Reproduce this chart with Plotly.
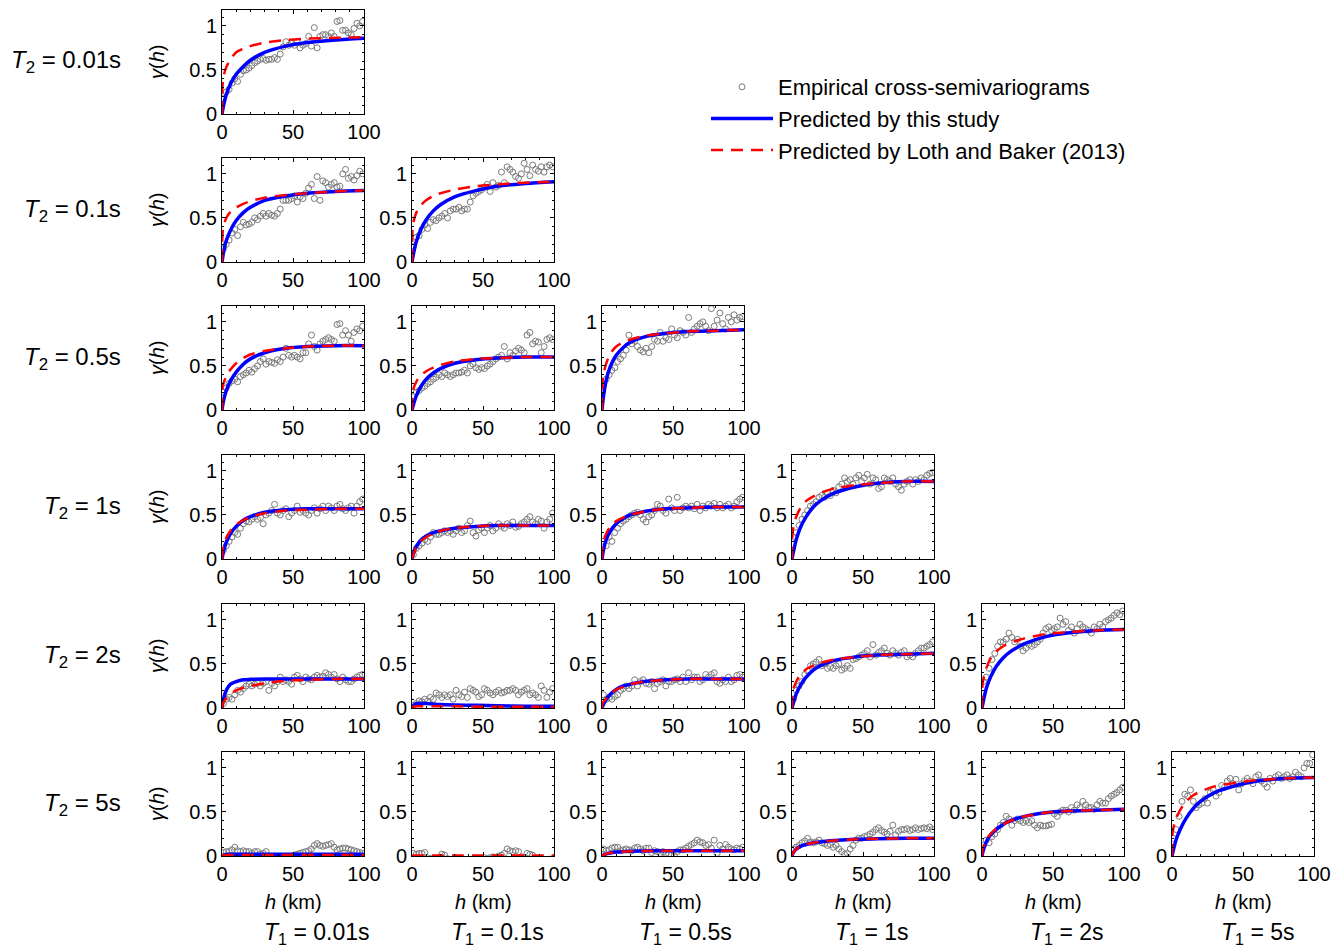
import plotly.graph_objects as go

# ---------------- data ----------------
T1_labels = ["0.01s", "0.1s", "0.5s", "1s", "2s", "5s"]
T2_labels = ["0.01s", "0.1s", "0.5s", "1s", "2s", "5s"]

x_ticks = [0, 50, 100]
y_ticks = [0, 0.5, 1]
y_ticktext = ["0", "0.5", "1"]

h_emp = [1, 3, 5, 7, 9, 11, 13, 15, 17, 19, 21, 23, 25, 27, 29, 31, 33, 35, 37, 39,
         41, 43, 45, 47, 49, 51, 53, 55, 57, 59, 61, 63, 65, 67, 69, 71, 73, 75, 77, 79,
         81, 83, 85, 87, 89, 91, 93, 95, 97, 99]
h_blue = [0, 1, 3, 6, 10, 15, 20, 30, 45, 60, 80, 100]
h_red = [0, 0.3, 1, 3, 6, 10, 15, 20, 30, 45, 60, 80, 100]

# Row T2 = 0.01s
emp_r1c1 = [0.18, 0.25, 0.28, 0.35, 0.40, 0.37, 0.45, 0.49, 0.50, 0.52,
            0.55, 0.58, 0.60, 0.62, 0.63, 0.61, 0.62, 0.62, 0.64, 0.62,
            0.68, 0.76, 0.82, 0.78, 0.80, 0.78, 0.82, 0.75, 0.78, 0.80,
            0.88, 0.77, 0.98, 0.75, 0.88, 0.90, 0.90, 0.88, 0.92, 0.88,
            1.05, 1.06, 0.95, 0.95, 0.92, 0.90, 0.97, 1.03, 1.00, 1.05]
blue_r1c1 = [0, 0.09, 0.22, 0.34, 0.45, 0.54, 0.61, 0.70, 0.77, 0.81, 0.84, 0.86]
red_r1c1 = [0, 0.30, 0.42, 0.53, 0.62, 0.70, 0.74, 0.77, 0.81, 0.84, 0.855, 0.865, 0.87]

# Row T2 = 0.1s
emp_r2c1 = [0.15, 0.20, 0.25, 0.33, 0.37, 0.30, 0.40, 0.45, 0.42, 0.43,
            0.45, 0.50, 0.48, 0.52, 0.55, 0.52, 0.55, 0.53, 0.52, 0.55,
            0.60, 0.70, 0.70, 0.70, 0.72, 0.75, 0.68, 0.74, 0.72, 0.78,
            0.84, 0.88, 0.72, 0.97, 0.70, 0.92, 0.90, 0.85, 0.88, 0.90,
            0.85, 0.86, 1.00, 1.05, 0.95, 0.97, 0.93, 0.98, 1.03, 1.00]
blue_r2c1 = [0, 0.10, 0.24, 0.36, 0.47, 0.56, 0.62, 0.70, 0.75, 0.78, 0.80, 0.81]
red_r2c1 = [0, 0.30, 0.40, 0.50, 0.57, 0.62, 0.66, 0.69, 0.73, 0.76, 0.78, 0.80, 0.81]

emp_r2c2 = [0.18, 0.28, 0.30, 0.37, 0.42, 0.38, 0.45, 0.48, 0.47, 0.50,
            0.52, 0.55, 0.50, 0.58, 0.60, 0.60, 0.62, 0.58, 0.60, 0.60,
            0.68, 0.75, 0.78, 0.80, 0.82, 0.85, 0.88, 0.80, 0.90, 0.85,
            0.87, 1.02, 0.90, 1.08, 1.05, 1.02, 0.97, 0.95, 1.00, 1.12,
            1.05, 0.98, 1.10, 1.05, 1.03, 1.08, 1.02, 1.08, 1.10, 1.08]
blue_r2c2 = [0, 0.09, 0.23, 0.36, 0.48, 0.58, 0.65, 0.74, 0.81, 0.86, 0.89, 0.91]
red_r2c2 = [0, 0.35, 0.45, 0.56, 0.64, 0.70, 0.75, 0.78, 0.82, 0.86, 0.88, 0.90, 0.91]

# Row T2 = 0.5s
emp_r3c1 = [0.20, 0.25, 0.30, 0.33, 0.35, 0.32, 0.38, 0.40, 0.42, 0.45,
            0.43, 0.47, 0.50, 0.55, 0.58, 0.52, 0.55, 0.54, 0.53, 0.57,
            0.55, 0.60, 0.70, 0.62, 0.60, 0.62, 0.60, 0.58, 0.65, 0.65,
            0.75, 0.85, 0.72, 0.68, 0.75, 0.78, 0.80, 0.82, 0.80, 0.78,
            0.97, 0.98, 0.85, 0.90, 0.85, 0.78, 0.88, 0.92, 0.90, 0.95]
blue_r3c1 = [0, 0.10, 0.22, 0.33, 0.43, 0.52, 0.58, 0.65, 0.70, 0.72, 0.73, 0.73]
red_r3c1 = [0, 0.25, 0.30, 0.38, 0.46, 0.53, 0.59, 0.63, 0.67, 0.70, 0.72, 0.73, 0.73]

emp_r3c2 = [0.15, 0.20, 0.22, 0.25, 0.27, 0.30, 0.32, 0.35, 0.37, 0.40,
            0.38, 0.42, 0.40, 0.38, 0.40, 0.42, 0.42, 0.43, 0.45, 0.42,
            0.50, 0.52, 0.48, 0.46, 0.48, 0.47, 0.50, 0.52, 0.55, 0.58,
            0.60, 0.62, 0.72, 0.58, 0.65, 0.62, 0.67, 0.70, 0.68, 0.65,
            0.85, 0.88, 0.75, 0.78, 0.77, 0.65, 0.72, 0.80, 0.82, 0.80]
blue_r3c2 = [0, 0.06, 0.16, 0.26, 0.35, 0.42, 0.47, 0.53, 0.57, 0.59, 0.60, 0.60]
red_r3c2 = [0, 0.18, 0.24, 0.32, 0.39, 0.44, 0.48, 0.51, 0.55, 0.58, 0.59, 0.60, 0.60]

emp_r3c3 = [0.28, 0.35, 0.40, 0.45, 0.48, 0.55, 0.58, 0.62, 0.68, 0.85,
            0.75, 0.78, 0.72, 0.68, 0.66, 0.70, 0.65, 0.72, 0.80, 0.78,
            0.88, 0.78, 0.82, 0.80, 0.92, 0.85, 0.82, 0.90, 0.88, 0.85,
            1.05, 0.88, 0.92, 0.95, 0.98, 1.00, 0.95, 0.90, 1.15, 0.95,
            1.02, 1.10, 0.98, 0.92, 1.05, 1.00, 1.08, 1.02, 1.05, 1.06]
blue_r3c3 = [0, 0.15, 0.34, 0.50, 0.62, 0.71, 0.77, 0.83, 0.87, 0.89, 0.90, 0.91]
red_r3c3 = [0, 0.30, 0.40, 0.53, 0.64, 0.72, 0.77, 0.80, 0.84, 0.87, 0.89, 0.90, 0.91]

# Row T2 = 1s
emp_r4c1 = [0.10, 0.15, 0.20, 0.25, 0.30, 0.28, 0.35, 0.40, 0.43, 0.42,
            0.45, 0.48, 0.45, 0.47, 0.40, 0.50, 0.52, 0.55, 0.62, 0.52,
            0.50, 0.55, 0.57, 0.48, 0.52, 0.55, 0.60, 0.53, 0.55, 0.52,
            0.50, 0.55, 0.58, 0.52, 0.57, 0.60, 0.55, 0.60, 0.58, 0.55,
            0.60, 0.62, 0.57, 0.55, 0.58, 0.60, 0.52, 0.60, 0.65, 0.68]
blue_r4c1 = [0, 0.08, 0.19, 0.29, 0.37, 0.44, 0.48, 0.53, 0.56, 0.57, 0.57, 0.57]
red_r4c1 = [0, 0.10, 0.15, 0.24, 0.32, 0.39, 0.44, 0.48, 0.52, 0.55, 0.56, 0.57, 0.57]

emp_r4c2 = [0.05, 0.12, 0.15, 0.18, 0.22, 0.20, 0.25, 0.30, 0.28, 0.28,
            0.30, 0.32, 0.30, 0.32, 0.28, 0.32, 0.35, 0.30, 0.32, 0.38,
            0.43, 0.30, 0.26, 0.33, 0.35, 0.30, 0.35, 0.38, 0.32, 0.35,
            0.40, 0.37, 0.35, 0.40, 0.38, 0.42, 0.36, 0.37, 0.40, 0.42,
            0.45, 0.48, 0.42, 0.40, 0.45, 0.43, 0.35, 0.42, 0.45, 0.52]
blue_r4c2 = [0, 0.06, 0.14, 0.21, 0.26, 0.30, 0.32, 0.35, 0.37, 0.38, 0.38, 0.38]
red_r4c2 = [0, 0.02, 0.05, 0.13, 0.20, 0.25, 0.29, 0.32, 0.35, 0.37, 0.38, 0.38, 0.38]

emp_r4c3 = [0.20, 0.15, 0.25, 0.20, 0.30, 0.35, 0.40, 0.43, 0.45, 0.48,
            0.50, 0.52, 0.53, 0.50, 0.45, 0.42, 0.48, 0.50, 0.55, 0.62,
            0.60, 0.55, 0.52, 0.68, 0.58, 0.55, 0.70, 0.55, 0.58, 0.60,
            0.58, 0.60, 0.57, 0.62, 0.55, 0.60, 0.58, 0.62, 0.60, 0.63,
            0.58, 0.62, 0.58, 0.60, 0.62, 0.58, 0.60, 0.65, 0.68, 0.70]
blue_r4c3 = [0, 0.10, 0.22, 0.32, 0.40, 0.46, 0.50, 0.54, 0.57, 0.58, 0.59, 0.59]
red_r4c3 = [0, 0.15, 0.20, 0.29, 0.37, 0.43, 0.47, 0.50, 0.54, 0.57, 0.58, 0.59, 0.59]

emp_r4c4 = [0.25, 0.30, 0.38, 0.45, 0.50, 0.55, 0.60, 0.62, 0.65, 0.70,
            0.72, 0.70, 0.75, 0.72, 0.78, 0.75, 0.82, 0.85, 0.92, 0.88,
            0.90, 0.85, 0.92, 0.95, 0.88, 0.92, 0.96, 0.85, 0.92, 0.90,
            0.80, 0.82, 0.92, 0.90, 0.88, 0.92, 0.85, 0.82, 0.78, 0.85,
            0.88, 0.90, 0.85, 0.90, 0.88, 0.92, 0.90, 0.95, 0.97, 0.98]
blue_r4c4 = [0, 0.08, 0.22, 0.36, 0.48, 0.59, 0.66, 0.75, 0.82, 0.86, 0.88, 0.88]
red_r4c4 = [0, 0.28, 0.36, 0.48, 0.58, 0.66, 0.71, 0.75, 0.80, 0.84, 0.86, 0.88, 0.88]

# Row T2 = 2s
emp_r5c1 = [0.05, 0.10, 0.12, 0.10, 0.15, 0.20, 0.18, 0.22, 0.25, 0.27,
            0.25, 0.27, 0.28, 0.25, 0.28, 0.30, 0.20, 0.28, 0.25, 0.30,
            0.35, 0.30, 0.32, 0.30, 0.27, 0.35, 0.37, 0.33, 0.30, 0.35,
            0.33, 0.32, 0.35, 0.37, 0.35, 0.36, 0.40, 0.38, 0.35, 0.38,
            0.33, 0.30, 0.35, 0.32, 0.30, 0.30, 0.33, 0.35, 0.37, 0.38]
blue_r5c1 = [0, 0.10, 0.20, 0.27, 0.30, 0.32, 0.325, 0.33, 0.33, 0.33, 0.33, 0.33]
red_r5c1 = [0, 0.03, 0.06, 0.11, 0.16, 0.20, 0.23, 0.25, 0.28, 0.31, 0.32, 0.33, 0.33]

emp_r5c2 = [0.03, 0.05, 0.08, 0.07, 0.10, 0.08, 0.12, 0.10, 0.17, 0.15,
            0.12, 0.15, 0.13, 0.15, 0.10, 0.20, 0.15, 0.13, 0.18, 0.12,
            0.22, 0.20, 0.18, 0.13, 0.15, 0.22, 0.20, 0.17, 0.15, 0.18,
            0.20, 0.17, 0.18, 0.20, 0.20, 0.22, 0.20, 0.15, 0.18, 0.20,
            0.22, 0.15, 0.17, 0.15, 0.12, 0.25, 0.20, 0.12, 0.18, 0.22]
blue_r5c2 = [0, 0.03, 0.05, 0.055, 0.05, 0.045, 0.04, 0.035, 0.03, 0.025, 0.02, 0.02]
red_r5c2 = [0, 0.01, 0.015, 0.02, 0.02, 0.02, 0.02, 0.02, 0.02, 0.015, 0.015, 0.015, 0.015]

emp_r5c3 = [0.15, 0.10, 0.12, 0.10, 0.13, 0.15, 0.20, 0.22, 0.25, 0.22,
            0.25, 0.32, 0.25, 0.30, 0.32, 0.28, 0.27, 0.30, 0.22, 0.28,
            0.30, 0.32, 0.25, 0.30, 0.30, 0.32, 0.33, 0.30, 0.35, 0.30,
            0.40, 0.32, 0.35, 0.35, 0.30, 0.32, 0.38, 0.35, 0.38, 0.40,
            0.30, 0.28, 0.32, 0.30, 0.35, 0.30, 0.32, 0.37, 0.38, 0.35]
blue_r5c3 = [0, 0.04, 0.10, 0.16, 0.21, 0.25, 0.27, 0.30, 0.32, 0.33, 0.33, 0.33]
red_r5c3 = [0, 0.05, 0.07, 0.11, 0.16, 0.21, 0.24, 0.27, 0.30, 0.32, 0.33, 0.33, 0.33]

emp_r5c4 = [0.10, 0.20, 0.25, 0.30, 0.38, 0.42, 0.48, 0.50, 0.52, 0.55,
            0.48, 0.50, 0.45, 0.47, 0.45, 0.48, 0.50, 0.43, 0.45, 0.48,
            0.45, 0.55, 0.56, 0.58, 0.60, 0.62, 0.65, 0.58, 0.72, 0.60,
            0.63, 0.65, 0.68, 0.62, 0.60, 0.65, 0.62, 0.60, 0.63, 0.65,
            0.58, 0.60, 0.58, 0.62, 0.65, 0.68, 0.68, 0.70, 0.72, 0.75]
blue_r5c4 = [0, 0.06, 0.16, 0.26, 0.35, 0.43, 0.48, 0.54, 0.58, 0.60, 0.61, 0.62]
red_r5c4 = [0, 0.18, 0.22, 0.30, 0.38, 0.44, 0.48, 0.51, 0.55, 0.58, 0.60, 0.61, 0.62]

emp_r5c5 = [0.30, 0.35, 0.45, 0.55, 0.62, 0.70, 0.75, 0.75, 0.78, 0.85,
            0.80, 0.75, 0.78, 0.70, 0.65, 0.68, 0.72, 0.70, 0.72, 0.75,
            0.78, 0.85, 0.90, 0.92, 0.88, 0.90, 0.92, 1.02, 0.95, 0.98,
            0.88, 0.92, 0.85, 0.90, 0.95, 0.92, 0.90, 0.88, 0.85, 0.92,
            0.90, 0.95, 0.92, 0.98, 1.00, 1.02, 1.05, 1.08, 1.06, 1.10]
blue_r5c5 = [0, 0.08, 0.22, 0.35, 0.47, 0.57, 0.64, 0.73, 0.81, 0.85, 0.88, 0.89]
red_r5c5 = [0, 0.25, 0.33, 0.45, 0.56, 0.64, 0.70, 0.74, 0.79, 0.84, 0.86, 0.88, 0.89]

# Row T2 = 5s
emp_r6c1 = [0.04, 0.05, 0.05, 0.07, 0.10, 0.06, 0.05, 0.06, 0.05, 0.05,
            0.03, 0.05, 0.05, 0.02, 0.03, 0.05, -0.03, -0.04, -0.03, -0.05,
            -0.04, -0.03, -0.02, -0.03, -0.02, 0.01, 0.02, 0.03, 0.04, 0.05,
            0.06, 0.08, 0.12, 0.14, 0.12, 0.11, 0.12, 0.13, 0.14, 0.10,
            0.07, 0.08, 0.09, 0.09, 0.08, 0.07, 0.06, 0.05, 0.04, 0.03]
blue_r6c1 = [0, 0.01, 0.02, 0.02, 0.02, 0.02, 0.02, 0.02, 0.02, 0.02, 0.02, 0.02]
red_r6c1 = [0, 0.005, 0.01, 0.01, 0.01, 0.01, 0.01, 0.01, 0.01, 0.01, 0.01, 0.01, 0.01]

emp_r6c2 = [0.03, 0.02, 0.03, 0.03, 0.04, -0.02, -0.03, -0.03, -0.04, -0.02,
            0.02, 0.01, -0.03, -0.04, -0.05, -0.04, -0.05, -0.06, -0.05, -0.04,
            -0.05, -0.06, -0.04, -0.05, -0.03, -0.02, -0.03, -0.02, -0.01, -0.02,
            0.00, 0.01, 0.03, 0.08, 0.06, 0.05, 0.06, 0.05, -0.01, -0.02,
            0.03, 0.02, 0.01, -0.03, -0.04, -0.05, -0.04, -0.06, -0.05, -0.03]
blue_r6c2 = [0, -0.02, -0.02, -0.02, -0.02, -0.02, -0.02, -0.02, -0.02, -0.02, -0.02, -0.02]
red_r6c2 = [0, 0.004, 0.005, 0.005, 0.005, 0.005, 0.005, 0.005, 0.005, 0.005, 0.005, 0.005, 0.005]

emp_r6c3 = [0.08, 0.06, 0.07, 0.09, 0.10, 0.10, 0.06, 0.07, 0.08, 0.07,
            0.06, 0.09, 0.10, 0.08, 0.06, 0.09, 0.09, 0.04, 0.06, 0.05,
            0.03, 0.05, 0.03, 0.02, 0.01, 0.00, 0.05, 0.07, 0.07, 0.09,
            0.11, 0.13, 0.15, 0.18, 0.16, 0.15, 0.12, 0.13, 0.09, 0.18,
            0.03, 0.12, 0.08, 0.13, 0.10, 0.08, 0.07, 0.09, 0.08, 0.10]
blue_r6c3 = [0, 0.01, 0.025, 0.035, 0.045, 0.05, 0.055, 0.058, 0.06, 0.06, 0.06, 0.06]
red_r6c3 = [0, 0.005, 0.01, 0.025, 0.035, 0.045, 0.05, 0.055, 0.058, 0.06, 0.06, 0.06, 0.06]

emp_r6c4 = [0.08, 0.10, 0.12, 0.15, 0.17, 0.20, 0.16, 0.15, 0.16, 0.18,
            0.15, 0.14, 0.12, 0.13, 0.10, 0.12, 0.08, 0.05, 0.02, 0.03,
            0.08, 0.12, 0.18, 0.20, 0.20, 0.22, 0.23, 0.25, 0.27, 0.30,
            0.32, 0.29, 0.27, 0.25, 0.28, 0.35, 0.24, 0.28, 0.30, 0.30,
            0.31, 0.29, 0.30, 0.32, 0.30, 0.31, 0.32, 0.31, 0.33, 0.30]
blue_r6c4 = [0, 0.04, 0.08, 0.11, 0.13, 0.15, 0.16, 0.175, 0.19, 0.195, 0.20, 0.20]
red_r6c4 = [0, 0.02, 0.04, 0.08, 0.11, 0.13, 0.15, 0.16, 0.175, 0.19, 0.195, 0.20, 0.20]

emp_r6c5 = [0.12, 0.18, 0.15, 0.22, 0.25, 0.30, 0.35, 0.38, 0.45, 0.42,
            0.35, 0.40, 0.42, 0.40, 0.38, 0.40, 0.38, 0.40, 0.35, 0.32,
            0.35, 0.34, 0.34, 0.35, 0.36, 0.48, 0.45, 0.50, 0.52, 0.52,
            0.50, 0.55, 0.52, 0.58, 0.55, 0.62, 0.58, 0.55, 0.55, 0.53,
            0.58, 0.62, 0.60, 0.60, 0.65, 0.68, 0.70, 0.72, 0.75, 0.78]
blue_r6c5 = [0, 0.07, 0.16, 0.24, 0.30, 0.36, 0.40, 0.45, 0.49, 0.51, 0.52, 0.53]
red_r6c5 = [0, 0.08, 0.11, 0.18, 0.25, 0.31, 0.36, 0.40, 0.45, 0.49, 0.51, 0.52, 0.53]

emp_r6c6 = [0.20, 0.30, 0.45, 0.62, 0.70, 0.68, 0.75, 0.62, 0.55, 0.58,
            0.60, 0.65, 0.60, 0.72, 0.75, 0.68, 0.72, 0.80, 0.78, 0.85,
            0.88, 0.82, 0.87, 0.75, 0.82, 0.85, 0.88, 0.85, 0.82, 0.90,
            0.92, 0.85, 0.82, 0.78, 0.88, 0.85, 0.90, 0.92, 0.88, 0.90,
            0.92, 0.88, 0.90, 0.95, 0.92, 0.90, 1.00, 1.05, 1.05, 1.15]
blue_r6c6 = [0, 0.07, 0.19, 0.31, 0.43, 0.54, 0.62, 0.72, 0.80, 0.85, 0.88, 0.89]
red_r6c6 = [0, 0.25, 0.32, 0.43, 0.53, 0.62, 0.69, 0.73, 0.79, 0.83, 0.86, 0.88, 0.89]

panels = [
    [(emp_r1c1, blue_r1c1, red_r1c1)],
    [(emp_r2c1, blue_r2c1, red_r2c1), (emp_r2c2, blue_r2c2, red_r2c2)],
    [(emp_r3c1, blue_r3c1, red_r3c1), (emp_r3c2, blue_r3c2, red_r3c2),
     (emp_r3c3, blue_r3c3, red_r3c3)],
    [(emp_r4c1, blue_r4c1, red_r4c1), (emp_r4c2, blue_r4c2, red_r4c2),
     (emp_r4c3, blue_r4c3, red_r4c3), (emp_r4c4, blue_r4c4, red_r4c4)],
    [(emp_r5c1, blue_r5c1, red_r5c1), (emp_r5c2, blue_r5c2, red_r5c2),
     (emp_r5c3, blue_r5c3, red_r5c3), (emp_r5c4, blue_r5c4, red_r5c4),
     (emp_r5c5, blue_r5c5, red_r5c5)],
    [(emp_r6c1, blue_r6c1, red_r6c1), (emp_r6c2, blue_r6c2, red_r6c2),
     (emp_r6c3, blue_r6c3, red_r6c3), (emp_r6c4, blue_r6c4, red_r6c4),
     (emp_r6c5, blue_r6c5, red_r6c5), (emp_r6c6, blue_r6c6, red_r6c6)],
]

legend_names = ["Empirical cross-semivariograms", "Predicted by this study",
                "Predicted by Loth and Baker (2013)"]

# ---------------- layout geometry (pixels) ----------------
W, H = 1342, 952
col_x0 = [222, 412, 602, 792, 982, 1172]
row_top = [10, 158, 306, 455, 604, 752]
PW, PH = 142, 104
FONT = "Liberation Sans, Arial, Helvetica, sans-serif"

fig = go.Figure()
layout_axes = {}
n = 0
for r, row in enumerate(panels):
    for c, (emp, blue, red) in enumerate(row):
        n += 1
        xa = "x" if n == 1 else f"x{n}"
        ya = "y" if n == 1 else f"y{n}"
        first = (n == 1)
        fig.add_trace(go.Scatter(
            x=h_emp[:len(emp)], y=emp, mode="markers", xaxis=xa, yaxis=ya,
            name=legend_names[0], showlegend=first, legendrank=1,
            marker=dict(symbol="circle-open", size=6, color="#7a7a7a",
                        line=dict(width=1, color="#7a7a7a"))))
        fig.add_trace(go.Scatter(
            x=h_blue, y=blue, mode="lines", xaxis=xa, yaxis=ya,
            name=legend_names[1], showlegend=first, legendrank=2,
            line=dict(color="#0000ff", width=3.5, shape="spline", smoothing=0.8)))
        fig.add_trace(go.Scatter(
            x=h_red, y=red, mode="lines", xaxis=xa, yaxis=ya,
            name=legend_names[2], showlegend=first, legendrank=3,
            line=dict(color="#ff0000", width=2.5, dash="12px,8px",
                      shape="spline", smoothing=0.8)))

        x0 = col_x0[c]
        top = row_top[r]
        xk = "xaxis" if n == 1 else f"xaxis{n}"
        yk = "yaxis" if n == 1 else f"yaxis{n}"
        layout_axes[xk] = dict(
            domain=[x0 / W, (x0 + PW) / W], anchor=ya, range=[0, 100],
            tickvals=x_ticks, ticks="inside", ticklen=4, tickcolor="black",
            showline=True, linecolor="black", linewidth=1, mirror="ticks",
            showgrid=False, zeroline=False, automargin=False,
            tickfont=dict(family=FONT, size=20, color="black"),
            minor=dict(ticks="inside", ticklen=2, dtick=10, tickcolor="black"))
        layout_axes[yk] = dict(
            domain=[1 - (top + PH) / H, 1 - top / H], anchor=xa, range=[0, 1.18],
            tickvals=y_ticks, ticktext=y_ticktext, ticks="inside", ticklen=4,
            tickcolor="black", showline=True, linecolor="black", linewidth=1,
            mirror="ticks", showgrid=False, zeroline=False, automargin=False,
            tickfont=dict(family=FONT, size=20, color="black"),
            minor=dict(ticks="inside", ticklen=2, dtick=0.1, tickcolor="black"))

annotations = []
for r, lab in enumerate(T2_labels):
    yc = 1 - (row_top[r] + PH / 2) / H
    annotations.append(dict(
        x=123 / W, y=yc, xref="paper", yref="paper", xanchor="right", yanchor="middle",
        text=f"<i>T</i><sub>2</sub> = {lab}", showarrow=False,
        font=dict(family=FONT, size=24, color="black")))
    annotations.append(dict(
        x=157 / W, y=yc, xref="paper", yref="paper", xanchor="center", yanchor="middle",
        text="<i>γ</i>(<i>h</i>)", textangle=-90, showarrow=False,
        font=dict(family=FONT, size=20, color="black")))

t1_left = [262, 449, 637, 833, 1028, 1219]
for c, lab in enumerate(T1_labels):
    xc = (col_x0[c] + PW / 2) / W
    annotations.append(dict(
        x=xc, y=1 - 902 / H, xref="paper", yref="paper", xanchor="center", yanchor="middle",
        text="<i>h</i> (km)", showarrow=False,
        font=dict(family=FONT, size=20, color="black")))
    annotations.append(dict(
        x=t1_left[c] / W, y=1 - 933 / H, xref="paper", yref="paper", xanchor="left",
        yanchor="middle", text=f"<i>T</i><sub>1</sub> = {lab}", showarrow=False,
        font=dict(family=FONT, size=23, color="black")))

fig.update_layout(
    width=W, height=H, margin=dict(l=0, r=0, t=0, b=0),
    paper_bgcolor="white", plot_bgcolor="white",
    font=dict(family=FONT, color="black"),
    showlegend=True,
    legend=dict(x=706 / W, y=1 - 66 / H, xanchor="left", yanchor="top",
                bgcolor="rgba(0,0,0,0)", font=dict(family=FONT, size=22, color="black"),
                itemwidth=62, tracegroupgap=0),
    annotations=annotations,
    **layout_axes)

fig.write_html(
    "out.html",
    config={"displayModeBar": False},
    post_script="document.body.style.margin='0';document.body.style.overflow='hidden';")
